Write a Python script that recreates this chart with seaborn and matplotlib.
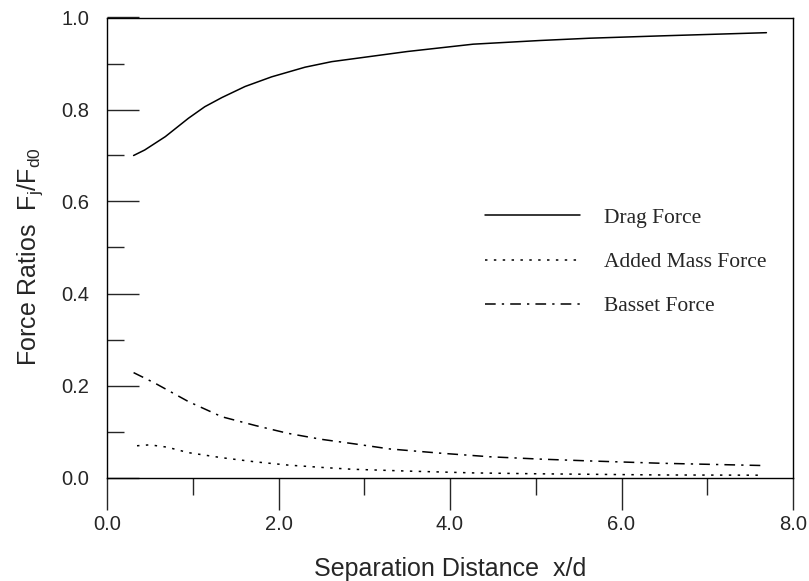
import matplotlib
matplotlib.use("Agg")
import matplotlib.pyplot as plt
from matplotlib.ticker import MultipleLocator, FormatStrFormatter
import pandas as pd
import seaborn as sns

# values
drag_x = [0.31, 0.44, 0.68, 0.95, 1.14, 1.34, 1.61, 1.92, 2.31, 2.62, 2.90, 3.50, 4.27, 5.05, 5.63, 6.45, 7.69]
drag_y = [0.700, 0.712, 0.741, 0.781, 0.806, 0.826, 0.850, 0.871, 0.892, 0.904, 0.911, 0.926, 0.942, 0.950, 0.955, 0.960, 0.967]

added_x = [0.35, 0.50, 0.70, 0.95, 1.34, 1.73, 2.11, 2.50, 2.85, 3.50, 4.27, 5.05, 5.63, 6.45, 7.65]
added_y = [0.069, 0.071, 0.066, 0.054, 0.043, 0.034, 0.027, 0.022, 0.018, 0.014, 0.010, 0.008, 0.007, 0.0055, 0.005]

basset_x = [0.31, 0.56, 0.95, 1.34, 1.73, 2.11, 2.50, 2.89, 3.30, 3.88, 4.47, 5.05, 5.63, 6.45, 7.65]
basset_y = [0.228, 0.205, 0.165, 0.132, 0.113, 0.096, 0.083, 0.073, 0.062, 0.053, 0.045, 0.040, 0.036, 0.031, 0.026]

series_names = ["Drag Force", "Added Mass Force", "Basset Force"]
line_dashes = {"Drag Force": (None, None), "Added Mass Force": (0, (1.6, 4.2)), "Basset Force": (0, (7, 4, 1.5, 4))}

sns.set_theme(style="ticks")
plt.rcParams["font.family"] = ["Liberation Sans", "DejaVu Sans"]
plt.rcParams["mathtext.fontset"] = "custom"
plt.rcParams["mathtext.rm"] = "Liberation Sans"

frames = {
    "Drag Force": pd.DataFrame({"x": drag_x, "y": drag_y}),
    "Added Mass Force": pd.DataFrame({"x": added_x, "y": added_y}),
    "Basset Force": pd.DataFrame({"x": basset_x, "y": basset_y}),
}

fig = plt.figure(figsize=(8.09, 5.81), dpi=100)
ax = fig.add_axes([107 / 809, 1 - 477.5 / 581, 686 / 809, 460 / 581])

for name in series_names:
    ls = line_dashes[name]
    kw = {} if ls[0] is None else {"linestyle": ls}
    sns.lineplot(data=frames[name], x="x", y="y", color="black", linewidth=1.1,
                 label=name, ax=ax, **kw)

ax.set_xlim(0, 8)
ax.set_ylim(0, 1)
ax.xaxis.set_major_locator(MultipleLocator(2))
ax.xaxis.set_minor_locator(MultipleLocator(1))
ax.yaxis.set_major_locator(MultipleLocator(0.2))
ax.yaxis.set_minor_locator(MultipleLocator(0.1))
ax.xaxis.set_major_formatter(FormatStrFormatter("%.1f"))
ax.yaxis.set_major_formatter(FormatStrFormatter("%.1f"))

ax.tick_params(axis="x", which="major", direction="out", length=23, width=1, pad=4, labelsize=14.5)
ax.tick_params(axis="x", which="minor", direction="out", length=12, width=1)
ax.tick_params(axis="y", which="major", direction="in", length=23, width=1, pad=13, labelsize=14.5)
ax.tick_params(axis="y", which="minor", direction="in", length=12, width=1)

for side in ["left", "right", "top", "bottom"]:
    ax.spines[side].set_visible(True)
    ax.spines[side].set_linewidth(1.0)
    ax.spines[side].set_color("black")

ax.set_xlabel("Separation Distance  x/d", fontsize=18)
ax.set_ylabel(r"Force Ratios  F$_\mathregular{j}$/F$_\mathregular{d0}$", fontsize=18)
ax.xaxis.set_label_coords(0.5, -0.172)
ax.yaxis.set_label_coords(-0.09, 0.48)

ax.legend(loc="upper left", bbox_to_anchor=(0.551, 0.586), frameon=False,
          prop={"family": "Liberation Serif", "size": 15.5},
          handlelength=4.4, handletextpad=1.15, labelspacing=1.12,
          borderpad=0, borderaxespad=0)

fig.savefig("out.png", dpi=100)
